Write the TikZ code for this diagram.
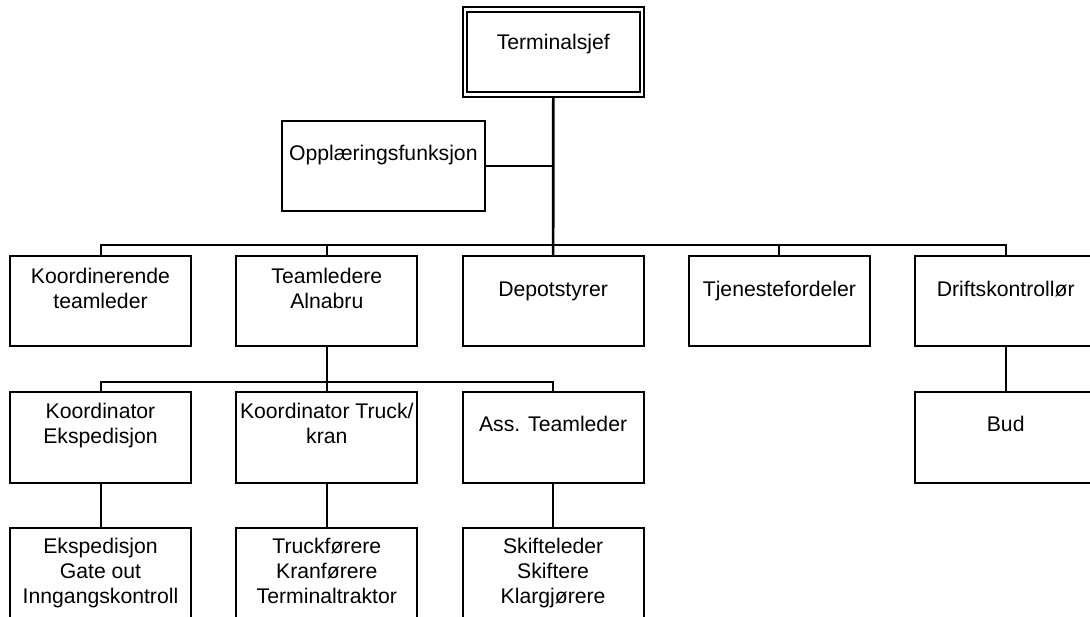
\documentclass[tikz,border=0pt]{standalone}
\usepackage{fontspec}
\setmainfont{Liberation Sans}
\begin{document}
\begin{tikzpicture}[x=1pt,y=-1pt,
  box/.style={draw=black,line width=2pt,fill=white,rectangle,inner sep=0pt,outer sep=0pt,
    minimum width=181pt,minimum height=90.5pt,anchor=north west},
  txt/.style={align=center,inner sep=0pt,font=\fontsize{21.2}{25}\selectfont,
    execute at begin node=\strut,execute at end node=\strut},
  conn/.style={draw=black,line width=2pt},
  trunk/.style={draw=black,line width=2.7pt}]
\useasboundingbox (0,0) rectangle (1090,617);
\coordinate (bar) at (0,245.3);
\coordinate (bar2) at (0,381.7);
% top
\node[box,minimum width=181.3pt,minimum height=90pt] (term) at (462.7,7.3) {};
\node[box,minimum width=173.3pt,minimum height=80.4pt] (termin) at (466.7,12.1) {};
\node[txt] (termt) at (553.3,44.5) {Terminalsjef};
\node[box,minimum width=203.3pt,minimum height=90.3pt] (opl) at (281.7,120.7) {};
\node[txt] (oplt) at (383.3,155.2) {Opplæringsfunksjon};
% row 1
\node[box] (kor) at (10,256) {};
\node[box] (team) at (236.3,256) {};
\node[box] (dep) at (462.6,256) {};
\node[box] (tje) at (688.9,256) {};
\node[box] (drift) at (915.2,256) {};
\node[txt] (kort) at ([yshift=-35.7pt]kor.north) {Koordinerende\\teamleder};
\node[txt] (teamt) at ([yshift=-35.7pt]team.north) {Teamledere\\Alnabru};
\node[txt] (dept) at ([yshift=-35.7pt]dep.north) {Depotstyrer};
\node[txt] (tjet) at ([yshift=-35.7pt]tje.north) {Tjenestefordeler};
\node[txt] (driftt) at ([yshift=-35.7pt]drift.north) {Driftskontrollør};
% row 2
\node[box] (ke) at (10,392.3) {};
\node[box] (kt) at (236.3,392.3) {};
\node[box] (at) at (462.6,392.3) {};
\node[box] (bud) at (915.2,392.3) {};
\node[txt] (ket) at ([yshift=-34.4pt]ke.north) {Koordinator\\Ekspedisjon};
\node[txt] (ktt) at ([yshift=-34.4pt]kt.north) {Koordinator Truck/\\kran};
\node[txt] (att) at ([yshift=-34.4pt]at.north) {Ass. Teamleder};
\node[txt] (budt) at ([yshift=-34.4pt]bud.north) {Bud};
% row 3
\node[box] (eks) at (10,528.3) {};
\node[box] (tru) at (236.3,528.3) {};
\node[box] (ski) at (462.6,528.3) {};
\node[txt] (ekst) at ([yshift=-46.6pt]eks.north) {Ekspedisjon\\Gate out\\Inngangskontroll};
\node[txt] (trut) at ([yshift=-46.6pt]tru.north) {Truckførere\\Kranførere\\Terminaltraktor};
\node[txt] (skit) at ([yshift=-46.6pt]ski.north) {Skifteleder\\Skiftere\\Klargjørere};
% connectors
\draw[trunk] (term.south) -- (dep.north);
\draw[conn] (opl.east) -- (opl.east -| term.south);
\draw[conn] (kor.north) -- (kor.north |- bar) -- (drift.north |- bar) -- (drift.north);
\draw[conn] (team.north) -- (team.north |- bar);
\draw[conn] (tje.north) -- (tje.north |- bar);
\draw[conn] (team.south) -- (team.south |- bar2);
\draw[conn] (ke.north) -- (ke.north |- bar2) -- (at.north |- bar2) -- (at.north);
\draw[conn] (kt.north) -- (kt.north |- bar2);
\draw[conn] (ke.south) -- (eks.north);
\draw[conn] (kt.south) -- (tru.north);
\draw[conn] (at.south) -- (ski.north);
\draw[conn] (drift.south) -- (bud.north);
\end{tikzpicture}
\end{document}
